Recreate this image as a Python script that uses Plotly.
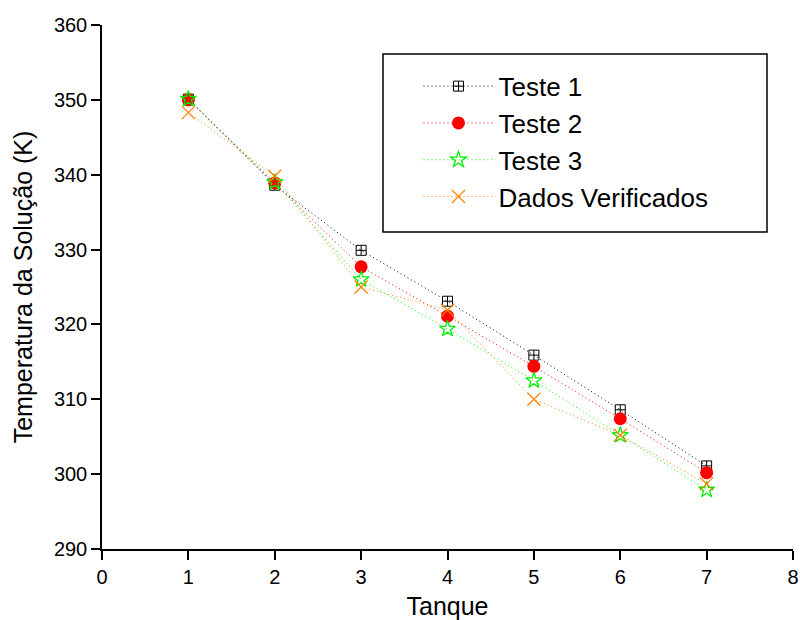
import plotly.graph_objects as go

tanque = [1, 2, 3, 4, 5, 6, 7]
teste1 = [350.1, 338.6, 329.9, 323.1, 315.9, 308.6, 301.1]
teste2 = [350.0, 338.9, 327.7, 321.1, 314.4, 307.4, 300.2]
teste3 = [350.1, 339.0, 326.0, 319.4, 312.5, 305.2, 297.9]
dados = [348.3, 339.8, 325.0, 321.9, 310.0, 305.2, 298.7]

x_ticks = [0, 1, 2, 3, 4, 5, 6, 7, 8]
y_ticks = [290, 300, 310, 320, 330, 340, 350, 360]

dash = "1px,3px"
fig = go.Figure()
fig.add_trace(go.Scatter(x=tanque, y=teste1, name="Teste 1", mode="lines+markers",
                         line=dict(color="black", width=1, dash=dash),
                         marker=dict(symbol="square-cross-open", size=10, color="black", line=dict(width=1))))
fig.add_trace(go.Scatter(x=tanque, y=teste2, name="Teste 2", mode="lines+markers",
                         line=dict(color="#ff0000", width=1, dash=dash),
                         marker=dict(symbol="circle", size=13, color="#ff0000")))
fig.add_trace(go.Scatter(x=tanque, y=teste3, name="Teste 3", mode="lines+markers",
                         line=dict(color="#00ff00", width=1, dash=dash),
                         marker=dict(symbol="star-open", size=12, color="#00ee00", line=dict(width=1.3))))
fig.add_trace(go.Scatter(x=tanque, y=dados, name="Dados Verificados", mode="lines+markers",
                         line=dict(color="#ff8000", width=1, dash=dash),
                         marker=dict(symbol="x-thin-open", size=13, color="#ff8000", line=dict(width=1.2, color="#ff8000"))))

W, H = 800, 620
pw = 793 - 102
ph = 549 - 25

fig.update_layout(
    width=W, height=H,
    margin=dict(l=102, r=W - 102 - pw, t=25, b=H - 25 - ph),
    paper_bgcolor="white", plot_bgcolor="white",
    font=dict(family="Liberation Sans, Arial, sans-serif", color="black", size=20),
    xaxis=dict(range=[0, 8], tickvals=x_ticks, showgrid=False, zeroline=False,
               showline=True, linecolor="black", linewidth=1.5, ticks="outside",
               ticklen=9, tickcolor="black", tickwidth=1.5, tickfont=dict(size=20),
               automargin=False, ticklabeloverflow="allow",
               title=dict(text="Tanque", font=dict(size=25), standoff=12)),
    yaxis=dict(range=[290, 360], tickvals=y_ticks, showgrid=False, zeroline=False,
               showline=True, linecolor="black", linewidth=1.5, ticks="outside",
               ticklen=9, tickcolor="black", tickwidth=1.5, tickfont=dict(size=20),
               automargin=False,
               title=dict(text="Temperatura da Solução (K)", font=dict(size=25), standoff=14)),
    legend=dict(x=0.458, y=0.928, xanchor="left", yanchor="top",
                borderwidth=0, bgcolor="rgba(0,0,0,0)",
                font=dict(size=26), itemwidth=70, tracegroupgap=0),
    shapes=[dict(type="rect", xref="paper", yref="paper",
                 x0=(383 - 102) / pw, x1=(767 - 102) / pw,
                 y0=(549 - 232) / ph, y1=(549 - 54) / ph,
                 line=dict(color="black", width=1.5), fillcolor="white", layer="above")],
    showlegend=True,
)

fig.write_html("out.html", config={"displayModeBar": False},
               post_script="document.body.style.margin='0';document.body.style.overflow='hidden';")
